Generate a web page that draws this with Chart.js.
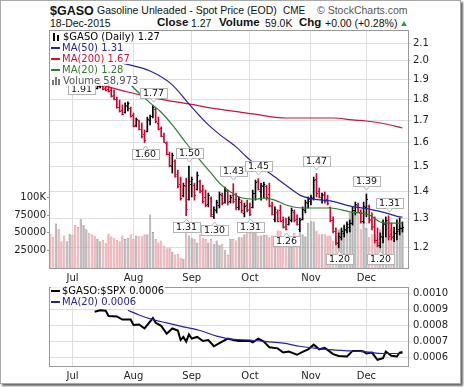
<!DOCTYPE html>
<html>
<head>
<meta charset="utf-8">
<script src="https://cdn.jsdelivr.net/npm/chart.js@4.4.1/dist/chart.umd.min.js"></script>
<style>
  body { margin: 0; background: #fff; }
  #frame { position: absolute; left: 0; top: 0; width: 459px; height: 382px; border: 1px solid #a8a8a8; box-shadow: 2px 2px 2px #666; background: #fff; }
  canvas { position: absolute; left: 0; }
  #main { top: 0; }
  #lower { top: 280px; }
  .t { position: absolute; white-space: nowrap; line-height: 1; font-family: 'Liberation Sans', Arial, sans-serif; color: #111; }
  .leg { position: absolute; font: 10px 'DejaVu Sans', Verdana, sans-serif; }
  .leg div { width: max-content; height: 11px; line-height: 11px; background: rgba(255,255,255,0.85); padding-right: 1px; }
  .sw { display: inline-block; width: 9px; height: 2px; vertical-align: middle; margin-right: 2px; }
  .ico { display: inline-block; width: 12px; height: 9px; vertical-align: -1px; position: relative; }
  .ico i { position: absolute; bottom: 0; width: 2px; }
  #tri { position: absolute; left: 401px; top: 21px; width: 0; height: 0; border-left: 3px solid transparent; border-right: 3px solid transparent; border-bottom: 5px solid #3a9a3a; }
</style>
</head>
<body>
<div id="frame"></div>

<div class="t" style="left:50px;top:5px;font-size:12.5px;font-weight:bold">$GASO</div>
<div class="t" style="left:97px;top:5px;font-size:10.5px">Gasoline Unleaded - Spot Price (EOD)</div>
<div class="t" style="left:283px;top:5.5px;font-size:10px">CME</div>
<div class="t" style="left:317px;top:5px;font-size:10.5px;color:#555">© StockCharts.com</div>
<div class="t" style="left:50px;top:17.5px;font-size:10.5px">18-Dec-2015</div>
<div class="t" style="left:157px;top:17px;font-size:11.5px;font-weight:bold">Close</div>
<div class="t" style="left:191px;top:17.5px;font-size:10.5px">1.27</div>
<div class="t" style="left:219px;top:17px;font-size:11.5px;font-weight:bold">Volume</div>
<div class="t" style="left:265px;top:17.5px;font-size:10.5px">59.0K</div>
<div class="t" style="left:299px;top:17px;font-size:11.5px;font-weight:bold">Chg</div>
<div class="t" style="left:325px;top:17.5px;font-size:10.5px">+0.00 (+0.28%)</div>
<div id="tri"></div>

<canvas id="main" width="464" height="283"></canvas>
<canvas id="lower" width="464" height="107"></canvas>

<div class="leg" style="left:51px;top:31px">
  <div><span class="ico"><i style="left:2px;height:8px;background:#000"></i><i style="left:6px;height:6px;background:#000"></i></span>$GASO (Daily) 1.27</div>
  <div style="color:#2424a0"><span class="sw" style="background:#2424a0"></span>MA(50) 1.31</div>
  <div style="color:#d0103a"><span class="sw" style="background:#d0103a"></span>MA(200) 1.67</div>
  <div style="color:#2e7d2e"><span class="sw" style="background:#2e7d2e"></span>MA(20) 1.28</div>
  <div style="color:#555"><span class="ico"><i style="left:1px;height:5px;background:#777"></i><i style="left:4px;height:8px;background:#777"></i><i style="left:7px;height:6px;background:#777"></i></span>Volume 58,973</div>
</div>
<div class="leg" style="left:51px;top:285px">
  <div><span class="sw" style="background:#000"></span>$GASO:$SPX 0.0006</div>
  <div style="color:#2424a0"><span class="sw" style="background:#2424a0"></span>MA(20) 0.0006</div>
</div>

<script>
// Handelstage 19. Juni - 18. Dezember 2015, Index 0..127.
const monthStarts = [8, 30, 51, 72, 94, 114];
const monthNames  = ['Jul', 'Aug', 'Sep', 'Oct', 'Nov', 'Dec'];

const priceTicks = [1.2, 1.3, 1.4, 1.5, 1.6, 1.7, 1.8, 1.9, 2.0, 2.1];
const volTicks   = [25000, 50000, 75000, 100000];
const volLabels  = ['25000', '50000', '75000', '100K'];
const ratioTicks = [0.0006, 0.0007, 0.0008, 0.0009, 0.0010];

// Kursbalken sind erst ab Tag 17 sichtbar (davor liegt die Legende).
const priceStart = 17;
const opens  = [1.858,1.866,1.866,1.856,1.852,1.845,1.822,1.800,1.765,1.748,1.738,1.770,1.760,1.725,1.680,1.700,1.660,1.640,1.650,1.700,
                1.720,1.755,1.690,1.665,1.630,1.600,1.550,1.500,1.520,1.470,1.430,1.385,1.420,1.370,1.430,1.425,1.410,1.440,1.400,1.380,
                1.352,1.375,1.310,1.330,1.350,1.385,1.360,1.400,1.362,1.385,1.370,1.340,1.360,1.320,1.350,1.335,1.340,1.395,1.440,1.400,
                1.420,1.420,1.390,1.345,1.300,1.325,1.330,1.295,1.275,1.280,1.295,1.325,1.300,1.265,1.300,1.330,1.355,1.365,1.375,1.450,
                1.400,1.370,1.390,1.370,1.340,1.295,1.255,1.215,1.235,1.250,1.260,1.270,1.285,1.330,1.350,1.320,1.290,1.340,1.345,1.300,
                1.275,1.225,1.210,1.235,1.280,1.295,1.245,1.240,1.250,1.265,1.268];
const highs  = [1.873,1.878,1.868,1.868,1.883,1.857,1.847,1.812,1.797,1.773,1.783,1.788,1.763,1.734,1.711,1.701,1.688,1.656,1.715,1.725,
                1.770,1.758,1.715,1.670,1.642,1.603,1.559,1.555,1.526,1.484,1.456,1.432,1.452,1.500,1.456,1.432,1.476,1.444,1.424,1.405,
                1.394,1.379,1.342,1.367,1.398,1.394,1.417,1.405,1.386,1.430,1.394,1.379,1.367,1.356,1.367,1.356,1.405,1.444,1.450,1.432,
                1.436,1.424,1.432,1.360,1.342,1.331,1.349,1.306,1.302,1.306,1.338,1.331,1.313,1.302,1.342,1.367,1.379,1.386,1.456,1.470,
                1.413,1.394,1.398,1.386,1.342,1.306,1.267,1.250,1.267,1.277,1.288,1.295,1.342,1.360,1.356,1.331,1.360,1.390,1.349,1.320,
                1.306,1.267,1.250,1.295,1.306,1.310,1.284,1.270,1.295,1.302,1.288];
const lows   = [1.852,1.857,1.847,1.842,1.837,1.812,1.797,1.758,1.739,1.725,1.734,1.744,1.715,1.670,1.670,1.656,1.620,1.600,1.647,1.679,
                1.711,1.688,1.656,1.625,1.601,1.547,1.497,1.472,1.456,1.413,1.367,1.379,1.310,1.367,1.379,1.367,1.405,1.394,1.356,1.342,
                1.342,1.306,1.300,1.320,1.338,1.349,1.356,1.349,1.356,1.356,1.331,1.331,1.320,1.306,1.324,1.310,1.338,1.367,1.405,1.367,
                1.375,1.367,1.342,1.313,1.288,1.288,1.288,1.267,1.260,1.277,1.288,1.288,1.277,1.253,1.295,1.320,1.338,1.349,1.367,1.379,
                1.375,1.356,1.356,1.349,1.288,1.250,1.210,1.200,1.226,1.236,1.250,1.253,1.277,1.313,1.320,1.284,1.284,1.306,1.284,1.260,
                1.216,1.203,1.200,1.216,1.236,1.226,1.226,1.220,1.226,1.243,1.253];
const closes = [1.868,1.872,1.850,1.846,1.840,1.818,1.800,1.762,1.745,1.730,1.775,1.782,1.720,1.675,1.705,1.662,1.628,1.610,1.705,1.718,
                1.765,1.695,1.660,1.630,1.603,1.552,1.503,1.545,1.462,1.420,1.375,1.425,1.335,1.440,1.450,1.385,1.465,1.405,1.365,1.350,
                1.385,1.315,1.335,1.360,1.390,1.355,1.405,1.360,1.380,1.365,1.340,1.370,1.330,1.345,1.330,1.318,1.395,1.435,1.410,1.425,
                1.430,1.380,1.350,1.318,1.335,1.292,1.290,1.272,1.265,1.300,1.330,1.295,1.282,1.295,1.335,1.360,1.372,1.380,1.445,1.395,
                1.380,1.388,1.362,1.355,1.295,1.255,1.220,1.240,1.255,1.262,1.280,1.285,1.330,1.352,1.325,1.290,1.345,1.370,1.295,1.270,
                1.225,1.210,1.240,1.285,1.295,1.240,1.235,1.250,1.258,1.266,1.270];

// Farbe der Volumenbalken vor dem ersten sichtbaren Kursbalken (1 = Aufwärtstag).
const earlyUp = [0,0,1,0,0,0,1,1,0,0,0,1,1,1,0,0,0,1];

const volumes = [48600,44000,63000,55500,38000,46000,38000,48600,47000,61000,58000,69000,61000,55000,50000,48000,46000,41000,38000,40000,
                 35000,49000,45000,43000,40000,38000,46000,41000,43000,48000,41000,46000,45000,45000,48000,48000,76000,51000,41000,36000,
                 39000,32000,28000,29000,23000,19000,20000,15000,13000,50000,46000,43000,41000,36000,48000,43000,41000,36000,41000,34000,
                 39000,33000,34000,25000,19000,41000,41000,39000,43500,43500,48000,50000,50000,53000,53000,46000,46000,47000,47000,43500,
                 46000,46000,53000,53000,35000,33000,38000,40000,50000,43500,50000,48000,45000,64000,67000,66000,53000,48000,48000,48000,
                 46000,46000,39000,41000,55000,55000,60000,64000,78000,80000,80000,76000,55000,67000,57000,43500,48000,48000,41000,55000,
                 60000,67000,66000,57000,53000,64000,60000,58973];

// Gleitende Durchschnitte als [Tag, Wert].
const ma50  = [[26,1.988],[36,1.945],[44,1.873],[50,1.778],[56,1.692],[61,1.636],[67,1.581],[72,1.526],[79,1.472],[85,1.424],
               [90,1.386],[95,1.371],[101,1.364],[109,1.343],[115,1.334],[121,1.320],[126,1.306],[127,1.305]];
const ma200 = [[17,1.878],[28,1.837],[40,1.800],[50,1.778],[60,1.754],[68,1.740],[73,1.730],[85,1.711],[95,1.711],[102,1.711],
               [109,1.702],[114,1.697],[121,1.683],[127,1.665]];
const ma20  = [[28,1.887],[32,1.832],[36,1.783],[40,1.738],[44,1.679],[49,1.598],[54,1.525],[58,1.472],[61,1.432],[65,1.398],
               [68,1.379],[74,1.371],[77,1.375],[81,1.367],[85,1.349],[91,1.338],[101,1.338],[108,1.324],[115,1.313],[119,1.288],
               [122,1.284],[127,1.284]];

// Verhältnis $GASO:$SPX und sein MA(20).
const ratio = [[16,0.000887],[18,0.000896],[20,0.000893],[21,0.000861],[24,0.000858],[26,0.000838],[29,0.000838],[30,0.000805],
               [32,0.000808],[34,0.000783],[37,0.000848],[38,0.000818],[40,0.000799],[42,0.000750],[44,0.000783],[46,0.000770],
               [47,0.000711],[48,0.000730],[49,0.000701],[50,0.000746],[51,0.000720],[53,0.000730],[55,0.000705],[57,0.000711],
               [59,0.000672],[61,0.000691],[64,0.000720],[66,0.000711],[68,0.000705],[72,0.000705],[73,0.000697],[75,0.000720],
               [77,0.000701],[79,0.000666],[82,0.000659],[84,0.000633],[86,0.000639],[89,0.000619],[91,0.000637],[93,0.000653],
               [95,0.000682],[97,0.000653],[99,0.000662],[102,0.000623],[104,0.000612],[107,0.000608],[109,0.000643],[112,0.000643],
               [113,0.000639],[114,0.000627],[116,0.000633],[118,0.000588],[120,0.000598],[121,0.000639],[123,0.000613],[125,0.000608],
               [126,0.000633],[127,0.000637]];
const ratioMa = [[28,0.000896],[32,0.000867],[37,0.000838],[42,0.000818],[48,0.000793],[54,0.000770],[60,0.000735],[66,0.000715],
                 [72,0.000711],[78,0.000701],[84,0.000691],[90,0.000672],[96,0.000659],[102,0.000649],[108,0.000643],[114,0.000637],
                 [120,0.000627],[127,0.000627]];

// Markierte Hochs/Tiefs.
const swingDay  = [11, 37, 34, 50, 49, 66, 59, 75, 72, 85, 96, 104, 114, 119, 122];
const swingVal  = [1.91, 1.77, 1.60, 1.50, 1.31, 1.43, 1.30, 1.45, 1.31, 1.26, 1.47, 1.20, 1.39, 1.20, 1.31];
const swingSide = ['down','up','down','up','down','up','down','up','down','down','up','down','up','down','up'];

const RED = '#d4002a';
const GRID = '#dedede';

Chart.defaults.font.family = "'DejaVu Sans', Verdana, sans-serif";
Chart.defaults.font.size = 10;
Chart.defaults.color = '#222';

function closeAt(i) {
  const k = i - priceStart;
  return k >= 0 && k < closes.length ? closes[k] : null;
}

// Aufwärtstag wenn Schlusskurs >= Vortag.
function isUp(i) {
  if (i < earlyUp.length) return earlyUp[i] === 1;
  return closeAt(i) >= closeAt(i - 1);
}

const pts = arr => arr.map(([d, v]) => ({ x: d, y: v }));

// Rahmen um die Zeichenfläche.
const framePlugin = {
  id: 'frame',
  afterDraw(chart) {
    const { ctx, chartArea: a } = chart;
    ctx.save();
    ctx.strokeStyle = '#9a9a9a';
    ctx.lineWidth = 1;
    ctx.strokeRect(a.left - 0.5, a.top - 0.5, a.right - a.left + 1, a.bottom - a.top + 1);
    ctx.restore();
  }
};

// Eröffnungs- und Schluss-Striche an den Kursbalken.
const ohlcTicks = {
  id: 'ohlcTicks',
  afterDatasetDraw(chart, args) {
    if (chart.data.datasets[args.index].label !== '$GASO') return;
    const { ctx, scales: { x, y } } = chart;
    ctx.save();
    ctx.lineWidth = 1;
    closes.forEach((c, k) => {
      const i = priceStart + k;
      const px = x.getPixelForValue(i);
      const po = Math.round(y.getPixelForValue(opens[k])) + 0.5;
      const pc = Math.round(y.getPixelForValue(c)) + 0.5;
      ctx.strokeStyle = isUp(i) ? '#000' : RED;
      ctx.beginPath();
      ctx.moveTo(px - 1.5, po); ctx.lineTo(px, po);
      ctx.moveTo(px, pc); ctx.lineTo(px + 1.5, pc);
      ctx.stroke();
    });
    ctx.restore();
  }
};

// Beschriftungskästchen für Hochs und Tiefs.
const swingLabels = {
  id: 'swingLabels',
  afterDatasetsDraw(chart) {
    const { ctx, scales: { x, y } } = chart;
    ctx.save();
    ctx.font = "9.5px 'DejaVu Sans'";
    ctx.textAlign = 'center';
    ctx.textBaseline = 'middle';
    swingDay.forEach((d, k) => {
      const px = Math.round(x.getPixelForValue(d)) + 0.5;
      const py = Math.round(y.getPixelForValue(swingVal[k]));
      const txt = swingVal[k].toFixed(2);
      const w = Math.ceil(ctx.measureText(txt).width) + 6, h = 11;
      const up = swingSide[k] === 'up';
      const top = up ? py - 7 - h : py + 6;
      const left = Math.round(px - w / 2);
      ctx.fillStyle = '#fff';
      ctx.strokeStyle = '#b4b4b4';
      ctx.fillRect(left, top, w, h);
      ctx.strokeRect(left + 0.5, top + 0.5, w - 1, h - 1);
      ctx.beginPath();
      if (up) {
        ctx.moveTo(px - 3, top + h - 0.5); ctx.lineTo(px, top + h + 3); ctx.lineTo(px + 3, top + h - 0.5);
      } else {
        ctx.moveTo(px - 3, top + 0.5); ctx.lineTo(px, top - 3); ctx.lineTo(px + 3, top + 0.5);
      }
      ctx.fill();
      ctx.stroke();
      ctx.fillStyle = '#111';
      ctx.fillText(txt, px, top + h / 2 + 0.5);
    });
    ctx.restore();
  }
};

function monthAxis(height, pad) {
  return {
    type: 'linear', min: -0.1, max: 129, offset: false,
    grid: { color: GRID, drawTicks: false, offset: false },
    border: { display: false },
    afterBuildTicks: s => { s.ticks = monthStarts.map(v => ({ value: v })); },
    afterFit: s => { s.height = height; },
    ticks: { autoSkip: false, maxRotation: 0, padding: pad, callback: v => monthNames[monthStarts.indexOf(v)] }
  };
}

new Chart(document.getElementById('main'), {
  type: 'bar',
  data: {
    datasets: [
      { type: 'line', label: 'MA(50)', data: pts(ma50), yAxisID: 'y', borderColor: '#2424a0', borderWidth: 1.2,
        pointRadius: 0, cubicInterpolationMode: 'monotone', order: 1 },
      { type: 'line', label: 'MA(200)', data: pts(ma200), yAxisID: 'y', borderColor: '#d0103a', borderWidth: 1.2,
        pointRadius: 0, cubicInterpolationMode: 'monotone', order: 1 },
      { type: 'line', label: 'MA(20)', data: pts(ma20), yAxisID: 'y', borderColor: '#2e7d2e', borderWidth: 1.2,
        pointRadius: 0, cubicInterpolationMode: 'monotone', order: 1 },
      { label: '$GASO', yAxisID: 'y', grouped: false, barThickness: 1, order: 2,
        data: closes.map((c, k) => ({ x: priceStart + k, y: [lows[k], highs[k]] })),
        backgroundColor: c => isUp(c.raw.x) ? '#000' : RED },
      { label: 'Volume', yAxisID: 'yVol', grouped: false, barPercentage: 0.85, categoryPercentage: 1, order: 3,
        data: volumes.map((v, i) => ({ x: i, y: v })),
        backgroundColor: c => isUp(c.raw.x) ? '#b5b5b5' : '#eeb4b9',
        borderColor: c => isUp(c.raw.x) ? '#8e8e8e' : '#d98a91',
        borderWidth: { left: 0.6, right: 0.6, top: 0.6, bottom: 0 } }
    ]
  },
  options: {
    responsive: false, animation: false, devicePixelRatio: 1,
    layout: { padding: { top: 31, left: 0, right: 0, bottom: 0 } },
    plugins: { legend: { display: false }, tooltip: { enabled: false } },
    scales: {
      x: monthAxis(15, 4),
      y: {
        type: 'logarithmic', position: 'right', min: 1.1357, max: 2.17,
        grid: { color: GRID, tickLength: 3 },
        border: { display: false },
        afterBuildTicks: s => { s.ticks = priceTicks.map(v => ({ value: v })); },
        afterFit: s => { s.width = 56; },
        ticks: { padding: 2, callback: v => v.toFixed(1) }
      },
      yVol: {
        type: 'linear', position: 'left', min: 0, max: 336000,
        grid: { drawOnChartArea: false, tickLength: 3, color: '#999' },
        border: { display: false },
        afterBuildTicks: s => { s.ticks = volTicks.map(v => ({ value: v })); },
        afterFit: s => { s.width = 50; },
        ticks: { padding: 1, callback: v => volLabels[volTicks.indexOf(v)] }
      }
    }
  },
  plugins: [framePlugin, ohlcTicks, swingLabels]
});

new Chart(document.getElementById('lower'), {
  type: 'line',
  data: {
    datasets: [
      { label: 'MA(20)', data: pts(ratioMa), borderColor: '#2424a0', borderWidth: 1.2, pointRadius: 0,
        cubicInterpolationMode: 'monotone', order: 1 },
      { label: '$GASO:$SPX', data: pts(ratio), borderColor: '#000', borderWidth: 2, pointRadius: 0,
        tension: 0, order: 2 }
    ]
  },
  options: {
    responsive: false, animation: false, devicePixelRatio: 1,
    layout: { padding: { top: 3, left: 50, right: 0, bottom: 0 } },
    plugins: { legend: { display: false }, tooltip: { enabled: false } },
    scales: {
      x: monthAxis(21, 4),
      y: {
        type: 'linear', position: 'right', min: 0.000549, max: 0.001035,
        grid: { color: GRID, tickLength: 3 },
        border: { display: false },
        afterBuildTicks: s => { s.ticks = ratioTicks.map(v => ({ value: v })); },
        afterFit: s => { s.width = 56; },
        ticks: { padding: 2, callback: v => v.toFixed(4) }
      }
    }
  },
  plugins: [framePlugin]
});
</script>
</body>
</html>
